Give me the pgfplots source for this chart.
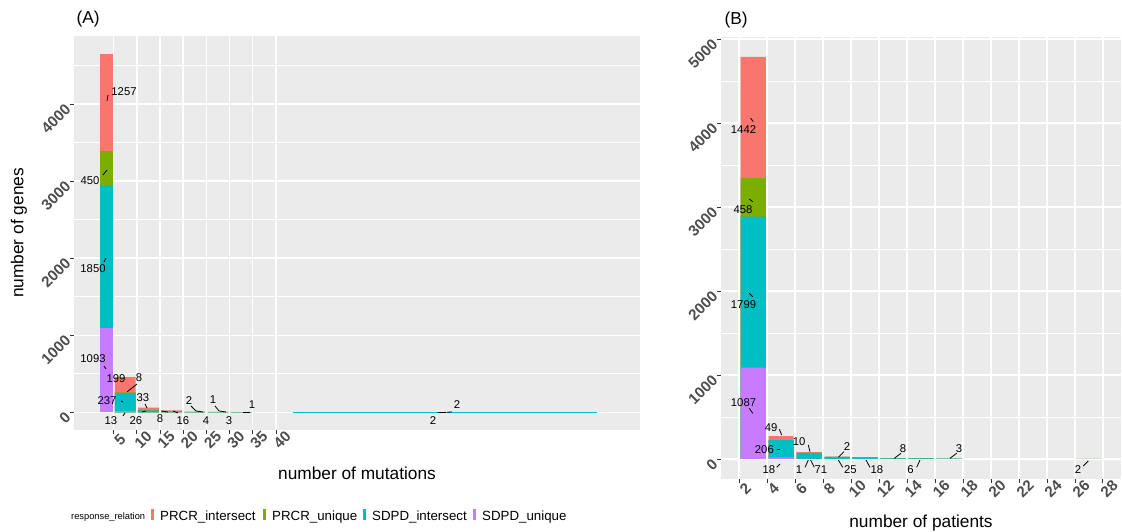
\documentclass[border=0pt]{standalone}
\usepackage{pgfplots}
\pgfplotsset{compat=1.18}
\usepackage{pgfplotstable}
\usepackage{fontspec}
\setmainfont{Liberation Sans}

\definecolor{prcrint}{HTML}{F8766D}
\definecolor{prcruni}{HTML}{7CAE00}
\definecolor{sdpdint}{HTML}{00BFC4}
\definecolor{sdpduni}{HTML}{C77CFF}
\definecolor{panelbg}{HTML}{EBEBEB}
\definecolor{ticktext}{HTML}{4D4D4D}
\definecolor{tickmark}{HTML}{333333}

\newcommand\ticklabfont{\fontsize{15.2}{16}\selectfont\bfseries}
\newcommand\axtitlefont{\fontsize{17.3}{19}\selectfont}
\newcommand\labfont{\fontsize{11.3}{12}\selectfont}
\newcommand\legfont{\fontsize{13.3}{15}\selectfont}
\newcommand\legtitlefont{\fontsize{9.3}{10}\selectfont}

% counts per bin, bin centre in column c
% su = SDPD_unique, si = SDPD_intersect, pu = PRCR_unique, pi = PRCR_intersect
% number of mutations, bin [2,5)
\pgfplotstableread{
c     su    si    pu   pi
3.5   1093  1850  450  1257
}\mutFirst
% number of mutations, bins of width 5 from 5 to 40
\pgfplotstableread{
c     su    si    pu   pi
7.5   13    237   8    199
12.5  0     26    0    33
17.5  0     8     0    16
22.5  0     4     0    2
27.5  0     3     0    1
32.5  0     1     0    0
37.5  0     0     0    0
}\mutFive
% number of mutations, bin [40,113)
\pgfplotstableread{
c     su    si    pu   pi
76.5  0     2     0    2
}\mutLast

% number of patients, bins of width 2
\pgfplotstableread{
c     su    si    pu   pi
3     1087  1799  458  1442
5     18    206   0    49
7     1     71    0    10
9     0     25    0    2
11    0     18    0    0
13    0     8     0    0
15    0     6     0    0
17    0     3     0    0
27    0     2     0    0
}\patients

\pgfplotsset{
  gg/.style={
    scale only axis,
    anchor=south west,
    axis background/.style={fill=panelbg},
    axis lines*=left,
    axis line style={draw=none},
    xmajorgrids, ymajorgrids, yminorgrids,
    major grid style={white, line width=1.4pt},
    minor grid style={white, line width=0.7pt},
    tick align=outside,
    major tick length=3.7pt, minor tick length=0pt,
    tick style={tickmark, line width=0.7pt},
    ticklabel style={font=\ticklabfont, text=ticktext},
    /pgf/number format/assume math mode=true,
    /pgf/number format/1000 sep={},
    scaled ticks=false,
    xticklabel style={rotate=45, anchor=north},
    yticklabel style={rotate=45, anchor=east},
  },
  stackbar/.style={ybar, bar shift=0pt, draw=none, restrict y to domain=0.5:100000},
}
\tikzset{leader/.style={black, line width=0.8pt}}

% stacked bars: each layer drawn from zero up to its running total
% #1 = table, #2 = bar width in axis units
\newcommand\stackedbars[2]{%
  \addplot[stackbar, bar width=#2, fill=prcrint] table[x=c, y expr=\thisrow{su}+\thisrow{si}+\thisrow{pu}+\thisrow{pi}] {#1};
  \addplot[stackbar, bar width=#2, fill=prcruni] table[x=c, y expr=\thisrow{su}+\thisrow{si}+\thisrow{pu}] {#1};
  \addplot[stackbar, bar width=#2, fill=sdpdint] table[x=c, y expr=\thisrow{su}+\thisrow{si}] {#1};
  \addplot[stackbar, bar width=#2, fill=sdpduni] table[x=c, y=su] {#1};
}
\newcommand\lab[3]{\node[font=\labfont, inner sep=0pt] at (axis cs:#1,#2) {#3};}
\newcommand\lead[4]{\draw[leader] (axis cs:#1,#2) -- (axis cs:#3,#4);}

\begin{document}
\begin{tikzpicture}
\useasboundingbox (0,0) rectangle (1122pt,532pt);

% ---------------- (A) number of mutations ----------------
\begin{axis}[gg,
  at={(74pt,101.8pt)}, width=566pt, height=394.2pt,
  xmin=-3.55, xmax=118.55, ymin=-232.5, ymax=4882.5,
  xtick={5,10,...,40}, ytick={0,1000,...,4000},
  minor ytick={500,1500,...,4500},
]
\stackedbars{\mutFirst}{2.7}
\stackedbars{\mutFive}{4.5}
\stackedbars{\mutLast}{65.7}
\lab{7.24}{4156}{1257}   \lead{3.57}{4039}{3.78}{4117}
\lab{-0.10}{3001}{450}   \lead{2.71}{3079}{3.57}{3144}
\lab{0.55}{1859}{1850}   \lead{2.92}{1950}{3.35}{2002}
\lab{0.55}{692}{1093}    \lead{2.92}{601}{3.35}{562}
\lab{5.51}{432}{199}
\lab{10.47}{447}{8}      \lead{7.88}{264}{10.04}{367}
\lab{3.57}{147}{237}     \lead{6.59}{147}{7.02}{134}
\lab{11.33}{186}{33}     \lead{11.77}{108}{12.20}{56}
\lab{4.43}{-113}{13}     \lead{7.02}{-48}{7.45}{-9}
\lab{9.82}{-113}{26}     \lead{11.12}{4}{11.98}{17}
\lab{15.00}{-87}{8}      \lead{15.3}{17}{16.7}{4}
\lab{19.96}{-113}{16}    \lead{17.8}{17}{18.9}{-9}
\lab{21.26}{147}{2}      \draw[leader] (axis cs:21.69,82) -- (axis cs:22.77,17) -- (axis cs:24.28,4);
\lab{24.92}{-113}{4}
\lab{26.43}{160}{1}      \draw[leader] (axis cs:26.86,82) -- (axis cs:27.73,17) -- (axis cs:29.24,4);
\lab{29.88}{-113}{3}
\lab{34.85}{95}{1}       \lead{32.90}{4}{34.41}{4}
\lab{73.89}{-113}{2}     \lead{74.97}{4}{76.69}{4}
\lab{79.06}{95}{2}       \lead{76.9}{0}{77.98}{4}
\end{axis}

% ---------------- (B) number of patients ----------------
\begin{axis}[gg,
  at={(721pt,52.9pt)}, width=400pt, height=442.2pt,
  xmin=0.7, xmax=29.3, ymin=-239.3, ymax=5025.3,
  xtick={2,4,...,28}, ytick={0,1000,...,5000},
  minor ytick={500,1500,...,4500},
]
\stackedbars{\patients}{1.8}
\lab{2.31}{3917}{1442}   \lead{2.82}{4056}{3.01}{4016}
\lab{2.27}{2964}{458}    \lead{2.72}{3095}{2.97}{3063}
\lab{2.31}{1842}{1799}   \lead{2.72}{1973}{2.97}{1932}
\lab{2.31}{670}{1087}    \lead{2.72}{604}{2.97}{544}
\lab{4.28}{373}{49}      \lead{4.87}{354}{5.04}{286}
\lab{3.80}{115}{206}     \lead{4.68}{119}{4.92}{119}
\lab{4.13}{-131}{18}     \lead{4.68}{-99}{4.92}{-60}
\lab{6.28}{206}{10}      \lead{6.94}{167}{7.06}{87}
\lab{6.28}{-131}{1}      \lead{6.71}{-99}{6.94}{-12}
\lab{7.84}{-131}{71}     \lead{7.11}{-12}{7.37}{-99}
\lab{9.71}{146}{2}       \lead{9.09}{20}{9.49}{87}
\lab{9.95}{-131}{25}     \lead{9.09}{-12}{9.40}{-99}
\lab{11.85}{-131}{18}    \lead{11.07}{-12}{11.35}{-99}
\lab{13.71}{127}{8}      \lead{13.09}{8}{13.57}{68}
\lab{14.25}{-131}{6}     \lead{14.69}{-99}{14.93}{-12}
\lab{17.72}{127}{3}      \lead{17.07}{8}{17.55}{68}
\lab{26.23}{-131}{2}     \lead{26.60}{-83}{26.96}{-24}
\end{axis}

% titles and axis titles
\node[anchor=west, font=\axtitlefont] at (73pt,513pt) {(A)};
\node[anchor=west, font=\axtitlefont] at (721pt,512pt) {(B)};
\node[rotate=90, font=\axtitlefont] at (19pt,299pt) {number of genes};
\node[font=\axtitlefont] at (357pt,59pt) {number of mutations};
\node[font=\axtitlefont] at (921pt,9pt) {number of patients};

% legend
\node[anchor=base west, font=\legtitlefont, inner sep=0pt] at (71pt,12pt) {response\_relation};
\fill[prcrint] (151pt,12pt) rectangle (154pt,23pt);
\node[anchor=base west, font=\legfont, inner sep=0pt] at (160pt,11.3pt) {PRCR\_intersect};
\fill[prcruni] (263pt,12pt) rectangle (266pt,23pt);
\node[anchor=base west, font=\legfont, inner sep=0pt] at (272pt,11.3pt) {PRCR\_unique};
\fill[sdpdint] (363pt,12pt) rectangle (366pt,23pt);
\node[anchor=base west, font=\legfont, inner sep=0pt] at (372pt,11.3pt) {SDPD\_intersect};
\fill[sdpduni] (473pt,12pt) rectangle (476pt,23pt);
\node[anchor=base west, font=\legfont, inner sep=0pt] at (482pt,11.3pt) {SDPD\_unique};
\end{tikzpicture}
\end{document}
